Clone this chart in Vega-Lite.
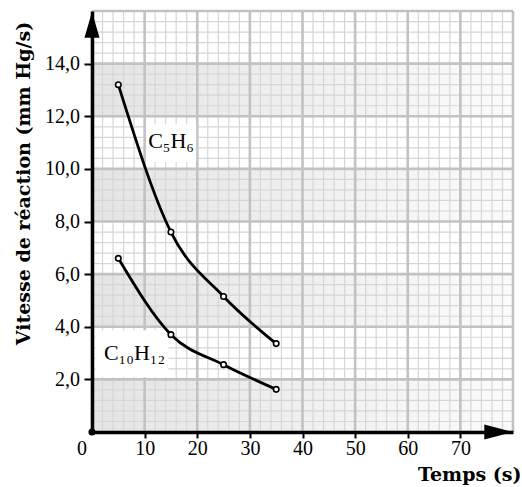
{
  "$schema": "https://vega.github.io/schema/vega-lite/v6.json",
  "width": 421,
  "height": 421,
  "autosize": {"type": "none"},
  "padding": {"left": 92, "top": 11, "right": 9, "bottom": 55},
  "background": "white",
  "config": {"view": {"stroke": null}},
  "resolve": {"axis": {"x": "independent", "y": "independent"}},
  "datasets": {
    "bands": [{"y0": 0, "y1": 2}, {"y0": 4, "y1": 6}, {"y0": 8, "y1": 10}, {"y0": 12, "y1": 14}],
    "minorX": [{"v":0},{"v":2},{"v":4},{"v":6},{"v":8},{"v":10},{"v":12},{"v":14},{"v":16},{"v":18},{"v":20},{"v":22},{"v":24},{"v":26},{"v":28},{"v":30},{"v":32},{"v":34},{"v":36},{"v":38},{"v":40},{"v":42},{"v":44},{"v":46},{"v":48},{"v":50},{"v":52},{"v":54},{"v":56},{"v":58},{"v":60},{"v":62},{"v":64},{"v":66},{"v":68},{"v":70},{"v":72},{"v":74},{"v":76},{"v":78},{"v":80}],
    "minorY": [{"v":0},{"v":0.4},{"v":0.8},{"v":1.2},{"v":1.6},{"v":2},{"v":2.4},{"v":2.8},{"v":3.2},{"v":3.6},{"v":4},{"v":4.4},{"v":4.8},{"v":5.2},{"v":5.6},{"v":6},{"v":6.4},{"v":6.8},{"v":7.2},{"v":7.6},{"v":8},{"v":8.4},{"v":8.8},{"v":9.2},{"v":9.6},{"v":10},{"v":10.4},{"v":10.8},{"v":11.2},{"v":11.6},{"v":12},{"v":12.4},{"v":12.8},{"v":13.2},{"v":13.6},{"v":14},{"v":14.4},{"v":14.8},{"v":15.2},{"v":15.6},{"v":16}],
    "majorX": [{"v":0},{"v":10},{"v":20},{"v":30},{"v":40},{"v":50},{"v":60},{"v":70},{"v":80}],
    "majorY": [{"v":0},{"v":2},{"v":4},{"v":6},{"v":8},{"v":10},{"v":12},{"v":14},{"v":16}],
    "boxes": [{"x0": 10.3, "x1": 19.8, "y0": 10.25, "y1": 11.7}, {"x0": 0.65, "x1": 14.5, "y0": 2.08, "y1": 3.87}],
    "labels": [{"name": "C₅H₆", "t": 15.03, "v": 10.78}, {"name": "C₁₀H₁₂", "t": 8.08, "v": 2.73}],
    "curves": [
      {"s": "C5H6", "t": 5, "v": 13.2}, {"s": "C5H6", "t": 15, "v": 7.6}, {"s": "C5H6", "t": 25, "v": 5.15}, {"s": "C5H6", "t": 35, "v": 3.36},
      {"s": "C10H12", "t": 5, "v": 6.6}, {"s": "C10H12", "t": 15, "v": 3.7}, {"s": "C10H12", "t": 25, "v": 2.56}, {"s": "C10H12", "t": 35, "v": 1.62}
    ],
    "arrowUp": [{"t": 0, "v": 15.48}],
    "arrowRight": [{"t": 77.3, "v": 0}],
    "origin": [{"t": 0, "v": 0, "lab": "0"}]
  },
  "layer": [
    {
      "data": {"name": "bands"},
      "mark": {"type": "rect", "color": {"gradient": "linear", "x1": 0, "x2": 1, "y1": 0, "y2": 0, "stops": [{"offset": 0, "color": "#e4e4e4"}, {"offset": 1, "color": "#fbfbfb"}]}},
      "encoding": {
        "x": {"datum": 0, "type": "quantitative", "axis": null, "scale": {"domain": [0, 80], "nice": false, "zero": false}},
        "x2": {"datum": 80},
        "y": {"field": "y0", "type": "quantitative", "axis": null, "scale": {"domain": [0, 16], "nice": false, "zero": false}},
        "y2": {"field": "y1"}
      }
    },
    {
      "data": {"name": "minorX"},
      "mark": {"type": "rule", "color": "#d6d6d6", "strokeWidth": 1.2},
      "encoding": {"x": {"field": "v", "type": "quantitative", "axis": null}}
    },
    {
      "data": {"name": "minorY"},
      "mark": {"type": "rule", "color": "#d6d6d6", "strokeWidth": 1.2},
      "encoding": {"y": {"field": "v", "type": "quantitative", "axis": null}}
    },
    {
      "data": {"name": "majorX"},
      "mark": {"type": "rule", "color": "#c2c2c6", "strokeWidth": 2.6},
      "encoding": {"x": {"field": "v", "type": "quantitative", "axis": null}}
    },
    {
      "data": {"name": "majorY"},
      "mark": {"type": "rule", "color": "#c2c2c6", "strokeWidth": 2.6},
      "encoding": {"y": {"field": "v", "type": "quantitative", "axis": null}}
    },
    {
      "data": {"name": "boxes"},
      "mark": {"type": "rect", "color": "white"},
      "encoding": {
        "x": {"field": "x0", "type": "quantitative", "axis": null},
        "x2": {"field": "x1"},
        "y": {"field": "y0", "type": "quantitative", "axis": null},
        "y2": {"field": "y1"}
      }
    },
    {
      "data": {"name": "curves"},
      "mark": {"type": "line", "color": "black", "strokeWidth": 2.8, "interpolate": "monotone"},
      "encoding": {
        "detail": {"field": "s"},
        "x": {
          "field": "t", "type": "quantitative",
          "axis": {
            "values": [10, 20, 30, 40, 50, 60, 70],
            "grid": false, "zindex": 1,
            "domainColor": "black", "domainWidth": 3.5,
            "tickColor": "black", "tickWidth": 2, "tickSize": 6,
            "labelFont": "Liberation Serif", "labelFontSize": 20, "labelColor": "black",
            "labelBaseline": "alphabetic", "labelPadding": 16, "labelFlush": false,
            "title": "Temps (s)", "titleFont": "DejaVu Serif", "titleFontWeight": "bold", "titleFontSize": 19, "titleColor": "black",
            "titleX": 429, "titleY": 48, "titleAlign": "right", "titleBaseline": "alphabetic", "titleAnchor": null
          }
        },
        "y": {
          "field": "v", "type": "quantitative",
          "axis": {
            "values": [2, 4, 6, 8, 10, 12, 14],
            "labelExpr": "replace(format(datum.value, '.1f'), '.', ',')",
            "grid": false, "zindex": 1,
            "domainColor": "black", "domainWidth": 3.5,
            "tickColor": "black", "tickWidth": 2, "tickSize": 8,
            "labelFont": "Liberation Serif", "labelFontSize": 20, "labelColor": "black",
            "labelPadding": 4.5, "labelFlush": false,
            "title": "Vitesse de réaction (mm Hg/s)", "titleFont": "DejaVu Serif", "titleFontWeight": "bold", "titleFontSize": 19, "titleColor": "black",
            "titleX": -63, "titleY": 172, "titleAngle": -90, "titleAlign": "center", "titleBaseline": "alphabetic", "titleAnchor": null
          }
        }
      }
    },
    {
      "data": {"name": "curves"},
      "mark": {"type": "point", "filled": true, "fill": "white", "stroke": "black", "strokeWidth": 1.6, "size": 30, "opacity": 1},
      "encoding": {
        "x": {"field": "t", "type": "quantitative", "axis": null},
        "y": {"field": "v", "type": "quantitative", "axis": null}
      }
    },
    {
      "data": {"name": "labels"},
      "mark": {"type": "text", "font": "Liberation Serif", "fontSize": 22, "color": "black", "align": "center", "baseline": "alphabetic"},
      "encoding": {
        "x": {"field": "t", "type": "quantitative", "axis": null},
        "y": {"field": "v", "type": "quantitative", "axis": null},
        "text": {"field": "name"}
      }
    },
    {
      "data": {"name": "arrowUp"},
      "mark": {"type": "point", "shape": "M0,-1L0.58,1L-0.58,1Z", "size": 676, "filled": true, "color": "black", "opacity": 1},
      "encoding": {
        "x": {"field": "t", "type": "quantitative", "axis": null},
        "y": {"field": "v", "type": "quantitative", "axis": null}
      }
    },
    {
      "data": {"name": "arrowRight"},
      "mark": {"type": "point", "shape": "M1,0L-1,0.52L-1,-0.52Z", "size": 841, "filled": true, "color": "black", "opacity": 1},
      "encoding": {
        "x": {"field": "t", "type": "quantitative", "axis": null},
        "y": {"field": "v", "type": "quantitative", "axis": null}
      }
    },
    {
      "data": {"name": "origin"},
      "mark": {"type": "point", "shape": "circle", "size": 50, "filled": true, "color": "black", "opacity": 1},
      "encoding": {
        "x": {"field": "t", "type": "quantitative", "axis": null},
        "y": {"field": "v", "type": "quantitative", "axis": null}
      }
    },
    {
      "data": {"name": "origin"},
      "mark": {"type": "text", "font": "Liberation Serif", "fontSize": 20, "color": "black", "align": "center", "baseline": "middle", "dx": -10, "dy": 17},
      "encoding": {
        "x": {"field": "t", "type": "quantitative", "axis": null},
        "y": {"field": "v", "type": "quantitative", "axis": null},
        "text": {"field": "lab"}
      }
    }
  ]
}
